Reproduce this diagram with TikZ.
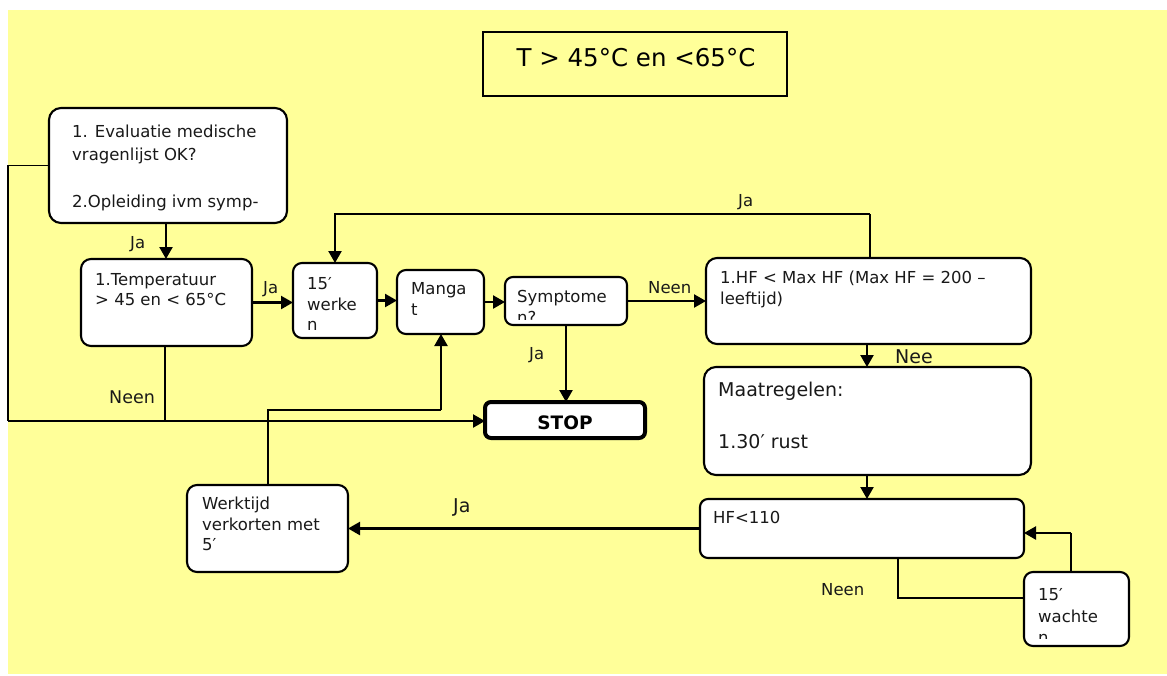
\documentclass[tikz,border=0pt]{standalone}
\usepackage{fontspec}
\setmainfont{DejaVu Sans}
\usetikzlibrary{arrows.meta,calc}
\definecolor{bgyellow}{HTML}{FFFF99}
\tikzset{
  box/.style={draw=black, line width=2.1pt, fill=white, rounded corners=9pt, inner sep=0pt, outer sep=0pt, anchor=north west},
  txt/.style={font=\fontsize{16.5}{19}\selectfont, anchor=base west, inner sep=0pt, text=black!90},
  bigtxt/.style={font=\fontsize{19}{22}\selectfont, anchor=base west, inner sep=0pt, text=black!90},
  lbl/.style={font=\fontsize{16.5}{19}\selectfont, anchor=base west, inner sep=0pt, text=black!90},
  conn/.style={line width=2.3pt},
  arr/.style={line width=2.3pt, -{Triangle[length=12pt,width=13pt]}},
  thin/.style={line width=1.7pt}
}
\begin{document}
\begin{tikzpicture}[x=1pt,y=-1pt]
\useasboundingbox (0,0) rectangle (1167,675);
\fill[white] (0,0) rectangle (1167,675);
\fill[bgyellow] (8,10) rectangle (1167,674);

% title
\node[draw=black, line width=1.7pt, fill=bgyellow, inner sep=0pt, outer sep=0pt, anchor=north west, minimum width=304pt, minimum height=64pt] (btitle) at (483,32) {};
\node[font=\fontsize{24.5}{28}\selectfont, anchor=base, inner sep=0pt] (ttitle) at (636,66) {T > 45°C en <65°C};

% box 1
\node[box, rounded corners=12pt, minimum width=238pt, minimum height=115pt] (b1) at (49,108) {};
\node[txt] (t1a) at (72,137) {1. Evaluatie medische};
\node[txt] (t1b) at (72,160) {vragenlijst OK?};
\node[txt] (t1c) at (72,207) {2.Opleiding ivm symp-};

% temperature
\node[box, rounded corners=10pt, minimum width=171pt, minimum height=87pt] (bt) at (81,259) {};
\node[txt] (tta) at (95,285) {1.Temperatuur};
\node[txt] (ttb) at (95,305) {> 45 en < 65°C};

% 15' werken
\node[box, minimum width=84pt, minimum height=75pt] (bw) at (293,263) {};
\node[txt] (twa) at (307,289) {15′};
\node[txt] (twb) at (307,310) {werke};
\node[txt] (twc) at (307,330) {n};

% Mangat
\node[box, minimum width=87pt, minimum height=64pt] (bm) at (397,270) {};
\node[txt] (tma) at (411,294) {Manga};
\node[txt] (tmb) at (411,315) {t};

% Symptomen
\node[box, rounded corners=8pt, minimum width=122pt, minimum height=48pt] (bs) at (505,277) {};
\node[txt] (tsa) at (517,302) {Symptome};
\begin{scope}
\clip (505,277) rectangle (627,319);
\node[txt] (tsb) at (517,323) {n?};
\end{scope}

% HF box
\node[box, rounded corners=11pt, minimum width=325pt, minimum height=86pt] (bh) at (706,258) {};
\node[txt] (tha) at (720,283) {1.HF < Max HF (Max HF = 200 –};
\node[txt] (thb) at (720,304) {leeftijd)};

% Maatregelen
\node[box, rounded corners=12pt, minimum width=327pt, minimum height=108pt] (bma) at (704,367) {};
\node[bigtxt] (tmaa) at (718,396) {Maatregelen:};
\node[bigtxt] (tmab) at (718,448) {1.30′ rust};

% HF<110
\node[box, rounded corners=8pt, minimum width=324pt, minimum height=59pt] (bhf) at (700,499) {};
\node[txt] (thf) at (713,523) {HF<110};

% Werktijd
\node[box, rounded corners=10pt, minimum width=161pt, minimum height=87pt] (bwk) at (187,485) {};
\node[txt] (twka) at (202,509) {Werktijd};
\node[txt] (twkb) at (202,530) {verkorten met};
\node[txt] (twkc) at (202,550) {5′};

% 15' wachten
\node[box, rounded corners=9pt, minimum width=105pt, minimum height=74pt] (bwa) at (1024,572) {};
\node[txt] (twaa) at (1038,600) {15′};
\node[txt] (twab) at (1038,622) {wachte};
\begin{scope}
\clip (1024,572) rectangle (1129,638.5);
\node[txt] (twac) at (1038,643) {n};
\end{scope}

% STOP
\node[draw=black, line width=4pt, fill=white, rounded corners=6pt, inner sep=0pt, outer sep=0pt, anchor=north west, minimum width=160pt, minimum height=36pt] (bstop) at (485,402) {};
\node[font=\bfseries\fontsize{18.5}{21}\selectfont, anchor=base, inner sep=0pt] (tstop) at (565,429) {STOP};

% connectors
\coordinate (leftx) at (8,0);
\coordinate (topy) at (0,214);
\coordinate (jm) at (441,410);
\coordinate (nn) at (898,598);
\coordinate (wu) at (1071,533);

\draw[arr] (b1.south -| 166,0) -- (bt.north -| 166,0);
\draw[thin] (b1.west) -| (leftx |- 0,421);
\draw[arr] (leftx |- 0,421) -- (bstop.west |- 0,421);
\draw[thin] (bt.south -| 165,0) -- (165,421);
\draw[arr] (bt.east) -- (bw.west |- bt.east);
\draw[arr] (bw.east) -- (bm.west |- bw.east);
\draw[arr] (bm.east) -- (bs.west |- bm.east);
\draw[arr] (bs.east) -- (bh.west |- bs.east);
\draw[arr] (bs.south -| 566,0) -- (bstop.north -| 566,0);
\draw[conn] (bh.north -| 870,0) -- (870,214);
\draw[arr] (870,214) -- (bw.north |- topy) -- (bw.north);
\draw[arr] (bh.south -| 867,0) -- (bma.north -| 867,0);
\draw[arr] (bma.south -| 867,0) -- (bhf.north -| 867,0);
\draw[arr] (bhf.west) -- (bwk.east |- bhf.west);
\draw[conn] (bwk.north -| 268,0) |- (jm);
\draw[arr] (jm) -- (bm.south -| jm);
\draw[conn] (nn |- bhf.south) -- (nn) -- (nn -| bwa.west);
\draw[conn] (wu |- bwa.north) -- (wu);
\draw[arr] (wu) -- (wu -| bhf.east);

% labels
\node[lbl] (l1) at (130,248) {Ja};
\node[font=\fontsize{17.5}{20}\selectfont, anchor=base west, inner sep=0pt, text=black!90] (l2) at (109,403) {Neen};
\node[lbl] (l3) at (263,293) {Ja};
\node[lbl] (l4) at (648,293) {Neen};
\node[lbl] (l5) at (529,359) {Ja};
\node[lbl] (l6) at (738,206) {Ja};
\node[bigtxt] (l7) at (895,363) {Nee};
\node[bigtxt] (l8) at (453,512) {Ja};
\node[lbl] (l9) at (821,595) {Neen};
\end{tikzpicture}
\end{document}
